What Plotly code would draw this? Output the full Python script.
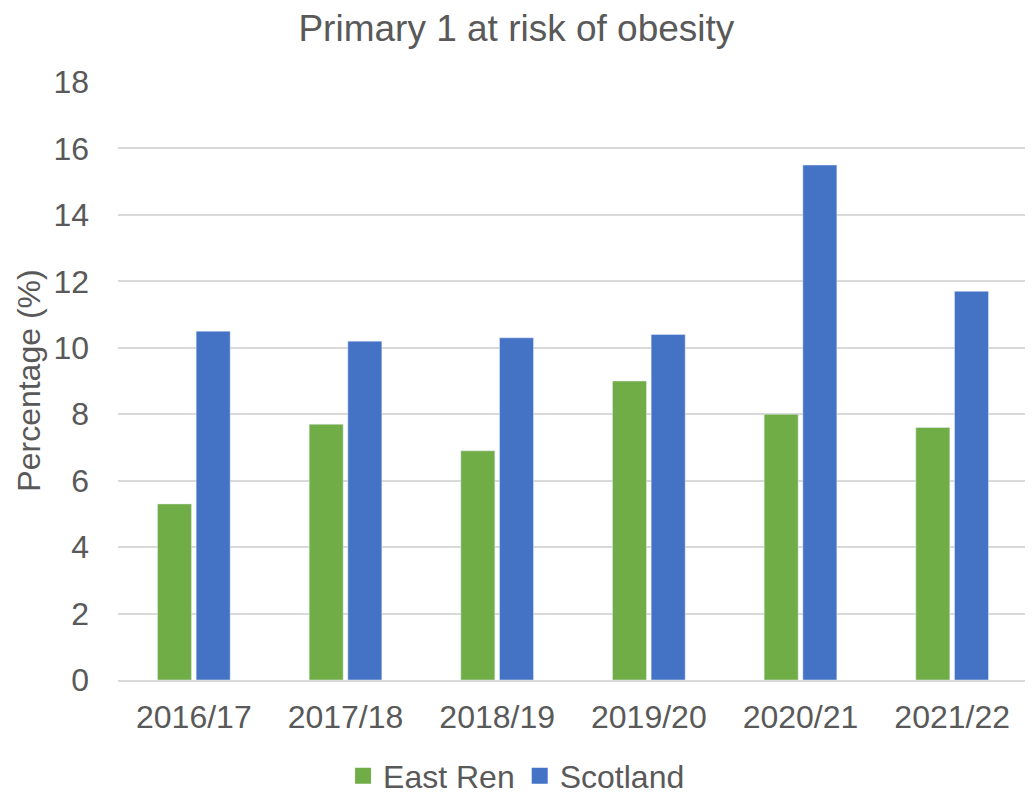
import plotly.graph_objects as go

years = ["2016/17", "2017/18", "2018/19", "2019/20", "2020/21", "2021/22"]
east_ren = [5.3, 7.7, 6.9, 9.0, 8.0, 7.6]
scotland = [10.5, 10.2, 10.3, 10.4, 15.5, 11.7]

font = "Liberation Sans, Arial, sans-serif"
grey = "#595959"
green = "#70ad47"
blue = "#4472c4"

fig = go.Figure()
fig.add_trace(go.Bar(x=years, y=east_ren, name="East Ren", marker_color=green, showlegend=False))
fig.add_trace(go.Bar(x=years, y=scotland, name="Scotland", marker_color=blue, showlegend=False))
# legend-only entries with square swatches
for name, col in [("East Ren", green), ("Scotland", blue)]:
    fig.add_trace(go.Scatter(x=[None], y=[None], mode="markers", name=name,
                             marker=dict(symbol="square", size=17, color=col)))

# page body has an 8px margin, so the figure is a bit smaller than the window
fig.update_layout(
    width=1025,
    height=787,
    barmode="group",
    bargap=0.49,
    bargroupgap=0.12,
    plot_bgcolor="white",
    paper_bgcolor="white",
    margin=dict(l=110, r=5, t=73, b=115, autoexpand=False),
    font=dict(family=font, color=grey, size=32),
    title=dict(text="Primary 1 at risk of obesity", x=0.496, xanchor="center",
               y=0.975, yanchor="middle", font=dict(size=37, color=grey)),
    legend=dict(orientation="h", x=0.438, xanchor="center", y=-0.16, yanchor="middle",
                font=dict(size=32, color=grey), itemwidth=30, tracegroupgap=0),
)
fig.update_yaxes(range=[0, 18.03], dtick=2, gridcolor="#d9d9d9", gridwidth=1.5,
                 zeroline=False, showline=False, ticks="", ticklabelstandoff=28,
                 automargin=False,
                 title=dict(text="Percentage (%)", font=dict(size=32, color=grey), standoff=3))
fig.update_xaxes(showline=True, linecolor="#d9d9d9", linewidth=1.5, ticks="",
                 ticklabelstandoff=8, automargin=False)

fig.write_html("out.html")
